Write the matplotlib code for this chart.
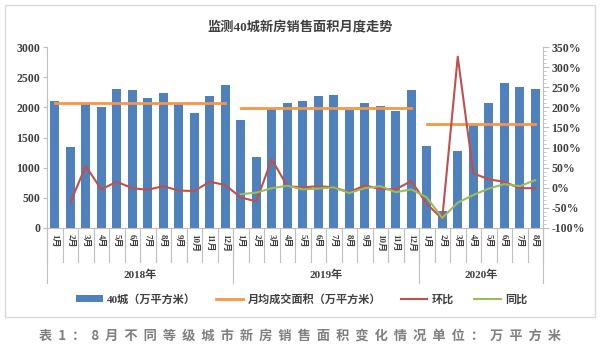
import matplotlib
matplotlib.use("Agg")
import matplotlib.pyplot as plt
import matplotlib.transforms as mtransforms
from matplotlib.patches import Rectangle
from matplotlib.ticker import MultipleLocator, FuncFormatter
import numpy as np

plt.rcParams['font.family'] = ['Liberation Serif', 'Noto Sans CJK SC', 'DejaVu Sans']

# data
years = ["2018年", "2019年", "2020年"]
months_per_year = [12, 12, 8]
month_labels = [f"{m}月" for m in range(1, 13)] * 2 + [f"{m}月" for m in range(1, 9)]
area = [2100, 1340, 2070, 2000, 2300, 2280, 2150, 2240, 2070, 1900, 2190, 2365,
        1790, 1172, 1990, 2080, 2100, 2190, 2210, 1960, 2080, 2020, 1945, 2280,
        1360, 290, 1280, 1720, 2080, 2410, 2330, 2310]
year_avg = [2080, 1985, 1722]
mom = [None, -37, 54, -4, 15, -1, -5, 4, -7, -8, 15, 7,
       -24, -34, 71, 4, 1, 4, 1, -11, 6, -3, -4, 17,
       -40, -77, 326, 36, 21, 15, -1, -1]
yoy = [None] * 12 + [-16, -12, -1, 5, -4, -2, 1, -13, -1, 4, -11, -4,
                     -24, -75, -37, -18, -2, 9, 4, 19]

blue = "#4F81BD"
orange = "#F79646"
red = "#C0504D"
green = "#9BBB59"
grey = "#BFBFBF"
txt = "#404040"

fig = plt.figure(figsize=(6, 3.48), dpi=100)
ax = fig.add_axes([47 / 600, 1 - 228 / 348, 496 / 600, 181 / 348])
ax2 = ax.twinx()

x = np.arange(len(area))
bars = ax.bar(x, area, width=0.55, color=blue, zorder=2)

# yearly average lines
start = 0
avg_line = None
for i, n in enumerate(months_per_year):
    xs = x[start:start + n]
    avg_line, = ax.plot([xs[0], xs[-1]], [year_avg[i]] * 2, color=orange, lw=2, zorder=3)
    start += n

mom_arr = np.array([np.nan if v is None else v for v in mom], dtype=float)
yoy_arr = np.array([np.nan if v is None else v for v in yoy], dtype=float)
mom_line, = ax2.plot(x, mom_arr, color=red, lw=1.5)
yoy_line, = ax2.plot(x, yoy_arr, color=green, lw=1.5)

ax.set_xlim(-0.5, len(area) - 0.5)
ax.set_ylim(0, 3000)
ax.yaxis.set_major_locator(MultipleLocator(500))
ax2.set_ylim(-100, 350)
ax2.yaxis.set_major_locator(MultipleLocator(50))
ax2.yaxis.set_minor_locator(MultipleLocator(10))
ax2.yaxis.set_major_formatter(FuncFormatter(lambda v, p: f"{v:.0f}%"))

for a in (ax, ax2):
    a.spines["top"].set_visible(False)
    a.spines["left"].set_color(grey)
    a.spines["right"].set_color(grey)
    a.spines["bottom"].set_color(grey)
ax.spines["right"].set_visible(False)
ax2.spines["left"].set_visible(False)
ax2.spines["bottom"].set_visible(False)

ax.tick_params(axis="y", colors=grey, labelcolor=txt, labelsize=8.5, length=3, pad=2)
for lab in ax.get_yticklabels():
    lab.set_fontweight("bold")
ax2.tick_params(axis="y", which="major", colors=grey, labelcolor=txt, labelsize=8.5, length=4, pad=2)
ax2.tick_params(axis="y", which="minor", colors=grey, length=2)
for lab in ax2.get_yticklabels():
    lab.set_fontweight("bold")

# month labels and category separators
ax.set_xticks(x)
ax.set_xticklabels(month_labels, rotation=-90, fontsize=6.5, color=txt, fontweight="bold")
ax.tick_params(axis="x", length=0, pad=4)
trans = mtransforms.blended_transform_factory(ax.transData, ax.transAxes)
for b in np.arange(len(area) + 1) - 0.5:
    ax.plot([b, b], [0, -34 / 181], transform=trans, color=grey, lw=0.8, clip_on=False)
start = 0
bounds = [-0.5]
for i, n in enumerate(months_per_year):
    ax.text(start + (n - 1) / 2, -47 / 181, years[i], transform=trans, ha="center", va="center",
            fontsize=8, color=txt, fontweight="bold")
    start += n
    bounds.append(start - 0.5)
for b in bounds:
    ax.plot([b, b], [0, -55 / 181], transform=trans, color=grey, lw=0.8, clip_on=False)

fig.text(0.5, 1 - 27 / 348, "监测40城新房销售面积月度走势", ha="center", va="center",
         fontsize=9.5, color=txt, fontweight="bold")

fig.legend([bars, avg_line, mom_line, yoy_line],
           ["40城（万平方米）", "月均成交面积（万平方米）", "环比", "同比"],
           loc="center", bbox_to_anchor=(0.503, 1 - 299 / 348), ncol=4,
           frameon=False, prop={"size": 8, "weight": "bold"}, handlelength=2.4,
           columnspacing=1.8, handletextpad=0.4, labelcolor=txt)

fig.patches.append(Rectangle((5 / 600, 1 - 317 / 348), 590 / 600, 312 / 348,
                             transform=fig.transFigure, fill=False, edgecolor="#D9D9D9", lw=1))

caption = "表 1：8 月不同等级城市新房销售面积变化情况单位：万平方米"
fig.text(0.5, 1 - 336 / 348, "  ".join(caption.replace(" ", "")), ha="center", va="center",
         fontsize=9.5, color="#7F7F7F", fontweight="bold", family=["Noto Sans CJK SC"])

fig.savefig("out.png", dpi=100)
